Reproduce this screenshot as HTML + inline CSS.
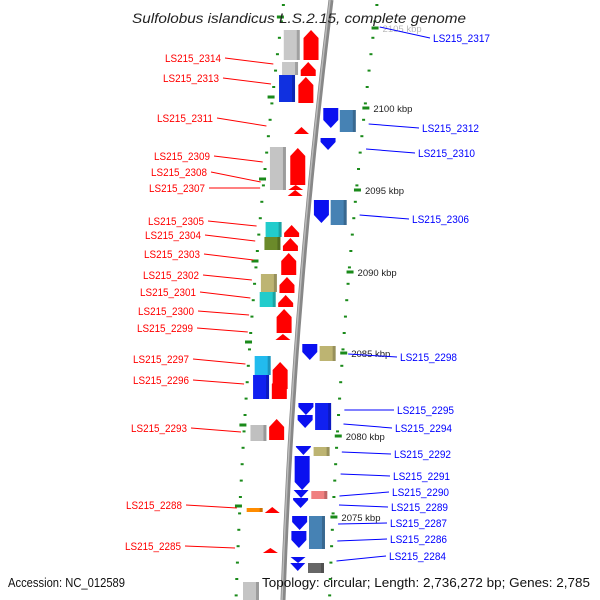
<!DOCTYPE html>
<html><head><meta charset="utf-8"><style>
html,body{margin:0;padding:0;background:#fff;}
svg{display:block;font-family:"Liberation Sans","DejaVu Sans",sans-serif;}
</style></head><body>
<svg id="map" width="600" height="600" viewBox="0 0 600 600" xmlns="http://www.w3.org/2000/svg">
<g id="layer"></g>
</svg>
<script>
// backbone centre x as a function of y
function bx(y){return 331-0.125*y+0.000075*y*y;}
// kbp tick labels and their y positions
const kbpLabels=["2105 kbp","2100 kbp","2095 kbp","2090 kbp","2085 kbp","2080 kbp","2075 kbp"];
const kbpY=[28,108,190,272,353,436,517];
// reverse-strand CDS (red, pointing up): [yTop,yBottom]
const revCDS=[[30,60],[62,76],[77,103],[127,134],[148,185],[185,190],[190,196],[225,237],[238,251],[253,275],[277,293],[295,307],[309,333],[334,340],[362,389],[376,399],[419,440],[507,513],[548,553]];
// forward-strand CDS (blue, pointing down)
const fwdCDS=[[108,128],[138,150],[200,223],[344,360],[403,415],[415,428],[446,455],[456,490],[490,498],[498,508],[516,530],[531,548],[557,563],[563,571]];
// left annotation boxes: [yTop,yBottom,color]
const leftBoxes=[[30,60,"#c8c8c8"],[62,75,"#c8c8c8"],[75,102,"#1030e0"],[147,190,"#c4c4c4"],[222,237,"#22cccc"],[237,250,"#6b8a2a"],[274,292,"#bdb472"],[292,307,"#22cccc"],[356,375,"#22bbee"],[375,399,"#1020f0"],[425,441,"#c0c0c0"],[508,512,"#ff8c00"],[582,600,"#c4c4c4"]];
// right annotation boxes
const rightBoxes=[[110,132,"#4682b4"],[200,225,"#4682b4"],[346,361,"#bdb472"],[403,430,"#1020f0"],[447,456,"#bdb472"],[491,499,"#f08080"],[516,549,"#4682b4"],[563,573,"#666666"]];
// labels
const leftNames=["LS215_2314","LS215_2313","LS215_2311","LS215_2309","LS215_2308","LS215_2307","LS215_2305","LS215_2304","LS215_2303","LS215_2302","LS215_2301","LS215_2300","LS215_2299","LS215_2297","LS215_2296","LS215_2293","LS215_2288","LS215_2285"];
const leftY=[58,78,118,156,172,188,221,235,254,275,292,311,328,359,380,428,505,546];
const leftEndX=[221,219,213,210,207,205,204,201,200,199,196,194,193,189,189,187,182,181];
const leftTargetY=[64,84,126,162,182,188,226,241,260,280,298,315,332,364,384,432,508,548];
const rightNames=["LS215_2317","LS215_2312","LS215_2310","LS215_2306","LS215_2298","LS215_2295","LS215_2294","LS215_2292","LS215_2291","LS215_2290","LS215_2289","LS215_2287","LS215_2286","LS215_2284"];
const rightY=[38,128,153,219,357,410,428,454,476,492,507,523,539,556];
const rightStartX=[433,422,418,412,400,397,395,394,393,392,391,390,390,389];
const rightTargetY=[27,124,149,215,354,410,424,452,474,496,505,524,541,561];

const NS="http://www.w3.org/2000/svg";
const L=document.getElementById("layer");
function mk(t,a,p){const e=document.createElementNS(NS,t);for(const k in a)e.setAttribute(k,a[k]);(p||L).appendChild(e);return e;}

for(let y=5;y<600;y+=16.4){
  const d1=mk("rect",{x:bx(y)-47-1.5,y:y-1,width:3,height:2,fill:"#1a8a1a"});
  
  
  const d2=mk("rect",{x:bx(y)+45,y:y-1,width:3,height:2,fill:"#1a8a1a"});
  
  
}
kbpY.forEach((y,i)=>{
  const yl=y-11;
  const t1=mk("rect",{x:bx(y)+44,y:y-1.5,width:7,height:3,fill:"#1a8a1a"});
  
  
  const t2=mk("rect",{x:bx(yl)-52,y:yl-1.5,width:7,height:3,fill:"#1a8a1a"});
  
  
  const tx=mk("text",{x:bx(y)+55,y:y+4,"font-size":"9.5",fill:i===0?"#bbb":"#222"});
  tx.textContent=kbpLabels[i];
  
  
});
let pd="";for(let y=0;y<=600;y+=10){pd+=(y?"L":"M")+bx(y).toFixed(1)+","+y;}
const bbl=mk("path",{d:pd,stroke:"#888",'stroke-width':5,fill:"none"});


mk("path",{d:pd,stroke:"#bbb",'stroke-width':1.5,fill:"none",transform:"translate(-1,0)"});

function box(y1,y2,dx1,dx2,col,name){
  const x1=bx(y2)+dx1;
  const g=mk("g",{});
  mk("rect",{x:x1,y:y1,width:dx2-dx1,height:y2-y1,fill:col},g);
  mk("rect",{x:x1+(dx2-dx1)-3,y:y1,width:3,height:y2-y1,fill:"#000",opacity:0.2},g);
  
  
}
leftBoxes.forEach(b=>box(b[0],b[1],-40,-24,b[2],'left-track-box'));
rightBoxes.forEach(b=>box(b[0],b[1],24,40,b[2],'right-track-box'));

function arrow(y1,y2,dx1,dx2,col,up,name){
  const xm=bx((y1+y2)/2),x1=xm+dx1,x2=xm+dx2,xc=(x1+x2)/2;
  const h=Math.min(8,(y2-y1));
  let pts;
  if(up) pts=[[xc,y1],[x2,y1+h],[x2,y2],[x1,y2],[x1,y1+h]];
  else pts=[[x1,y1],[x2,y1],[x2,y2-h],[xc,y2],[x1,y2-h]];
  const p=mk("polygon",{points:pts.map(q=>q.join(",")).join(" "),fill:col});
  
  
}
revCDS.forEach(c=>arrow(c[0],c[1],-22,-7,"#ff0000",true,'reverse-cds'));
fwdCDS.forEach(c=>arrow(c[0],c[1],6,21,"#0a10f0",false,'forward-cds'));

leftNames.forEach((n,i)=>{
  const y=leftY[i], ex0=leftEndX[i];
  const t=mk("text",{x:ex0-56,y:y+4,'font-size':"11",fill:"#ff0000",textLength:56,lengthAdjust:"spacingAndGlyphs"});
  t.textContent=n;
  
  
  const ex=bx(leftTargetY[i])-50;
  const ln=mk("line",{x1:ex0+4,y1:y,x2:ex,y2:leftTargetY[i],stroke:"#ff0000",'stroke-width':1});
  
  
});
rightNames.forEach((n,i)=>{
  const y=rightY[i], tx=rightStartX[i];
  const t=mk("text",{x:tx,y:y+4,'font-size':"11",fill:"#0000ff",textLength:57,lengthAdjust:"spacingAndGlyphs"});
  t.textContent=n;
  
  
  const sx=bx(rightTargetY[i])+52;
  const ln=mk("line",{x1:sx,y1:rightTargetY[i],x2:tx-3,y2:y,stroke:"#0000ff",'stroke-width':1});
  
  
});
const ti=mk("text",{x:132,y:23,'font-size':"14",'font-style':'italic',fill:"#222",textLength:334,lengthAdjust:"spacingAndGlyphs"});
ti.textContent="Sulfolobus islandicus L.S.2.15, complete genome";


const a=mk("text",{x:8,y:587,'font-size':"12.5",fill:"#111",textLength:117,lengthAdjust:"spacingAndGlyphs"});
a.textContent="Accession: NC_012589";


const tp=mk("text",{x:262,y:587,'font-size':"12.5",fill:"#111",textLength:328,lengthAdjust:"spacingAndGlyphs"});
tp.textContent="Topology: circular; Length: 2,736,272 bp; Genes: 2,785";


</script>
</body></html>
